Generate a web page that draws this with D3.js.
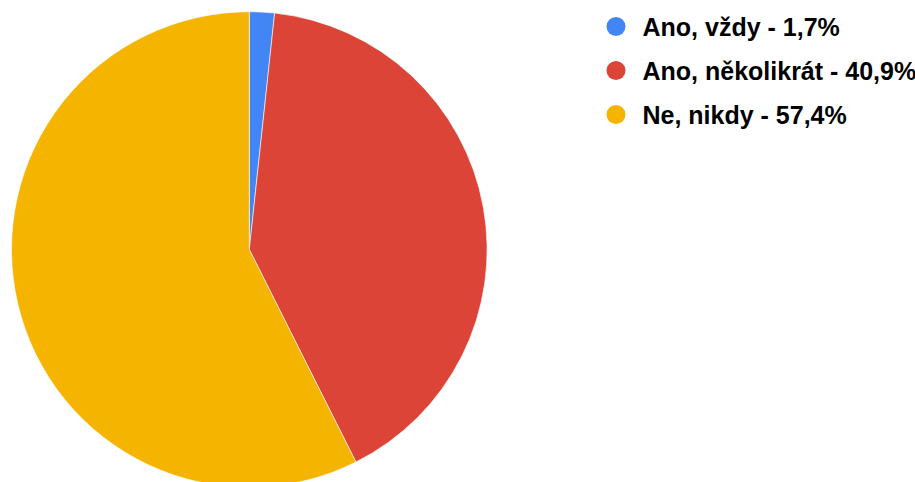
<!DOCTYPE html>
<html>
<head>
<meta charset="utf-8">
<script src="https://cdn.jsdelivr.net/npm/d3@7"></script>
<style>
  html, body { margin: 0; padding: 0; background: #fff; }
  svg { display: block; }
</style>
</head>
<body>
<svg id="chart" width="915" height="482"></svg>
<script>
// Answers and their shares (%)
const categories = ["Ano, vždy", "Ano, několikrát", "Ne, nikdy"];
const shares = [1.7, 40.9, 57.4];
const colors = ["#4285F4", "#DB4437", "#F4B400"];

const svg = d3.select("#chart");
const cx = 249.3, cy = 249.5, radius = 237.8;

const pie = d3.pie().sort(null).value(d => d.value);
const arc = d3.arc().innerRadius(0).outerRadius(radius);
const color = d3.scaleOrdinal().domain(categories).range(colors);

const data = categories.map((c, i) => ({ name: c, value: shares[i] }));

svg.append("g")
  .attr("transform", `translate(${cx},${cy})`)
  .selectAll("path")
  .data(pie(data))
  .join("path")
  .attr("d", arc)
  .attr("fill", d => color(d.data.name))
  .attr("stroke", "#fff")
  .attr("stroke-width", 0.6);

// Legend
const legend = svg.append("g").attr("transform", "translate(616,26.5)");
const rows = legend.selectAll("g")
  .data(data)
  .join("g")
  .attr("transform", (d, i) => `translate(0,${i * 44})`);

rows.append("circle")
  .attr("r", 9.5)
  .attr("fill", d => color(d.name));

rows.append("text")
  .attr("x", 26.5)
  .attr("dy", "0.36em")
  .attr("font-family", "Liberation Sans, Arial, sans-serif")
  .attr("font-weight", "bold")
  .attr("font-size", 25)
  .attr("fill", "#000")
  .text(d => `${d.name} - ${d3.format(".1f")(d.value).replace(".", ",")}%`);
</script>
</body>
</html>
